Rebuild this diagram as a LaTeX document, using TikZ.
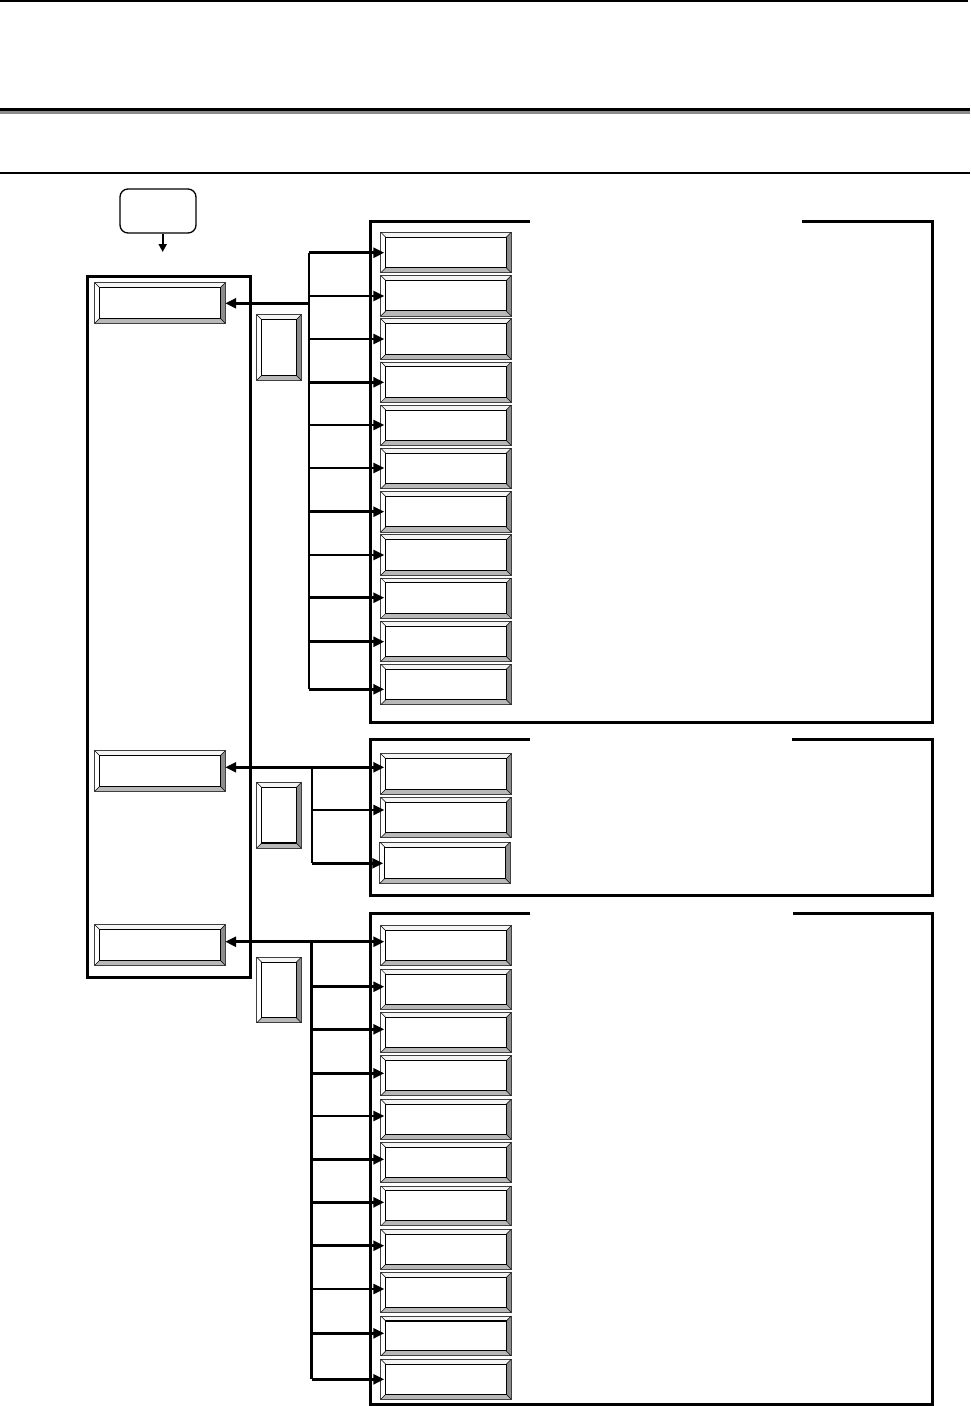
\documentclass[tikz,border=0pt]{standalone}
\usetikzlibrary{arrows.meta,calc}
\tikzset{
  pbox/.style={rectangle, inner sep=0pt, minimum width=130pt, minimum height=40pt},
  vbox/.style={rectangle, inner sep=0pt, minimum width=44pt, minimum height=65pt},
  heavy/.style={line width=3pt, line join=miter},
  conn/.style={line width=2.6pt},
  arr/.style={conn, -{Triangle[length=11pt,width=10pt]}},
  darr/.style={conn, {Triangle[length=11pt,width=10pt]}-{Triangle[length=11pt,width=10pt]}},
}
\newcommand\drawbevel[1]{%
  \fill[black!4] (#1.north west) -- (#1.north east) -- ($(#1.north east)+(-5pt,-5pt)$) -- ($(#1.north west)+(5pt,-5pt)$) -- cycle;
  \fill[white] (#1.north west) -- (#1.south west) -- ($(#1.south west)+(5pt,5pt)$) -- ($(#1.north west)+(5pt,-5pt)$) -- cycle;
  \fill[black!45] (#1.north east) -- (#1.south east) -- ($(#1.south east)+(-5pt,5pt)$) -- ($(#1.north east)+(-5pt,-5pt)$) -- cycle;
  \fill[black!28] (#1.south west) -- (#1.south east) -- ($(#1.south east)+(-5pt,5pt)$) -- ($(#1.south west)+(5pt,5pt)$) -- cycle;
  \draw[line width=0.8pt, black!75] (#1.north west) rectangle (#1.south east);
  \draw[line width=1.1pt] ($(#1.north west)+(5pt,-5pt)$) rectangle ($(#1.south east)+(-5pt,5pt)$);
  \draw[line width=0.5pt] (#1.north west) -- ($(#1.north west)+(5pt,-5pt)$)
    (#1.north east) -- ($(#1.north east)+(-5pt,-5pt)$)
    (#1.south east) -- ($(#1.south east)+(-5pt,5pt)$)
    (#1.south west) -- ($(#1.south west)+(5pt,5pt)$);
}
\begin{document}
\begin{tikzpicture}[x=1pt,y=-1pt]
\useasboundingbox (0,0) rectangle (970,1406);
\fill[white] (0,0) rectangle (970,1406);
% page rules
\draw[line width=2.5pt] (0,1.2) -- (968,1.2);
\draw[line width=3pt] (0,109) -- (970,109);
\draw[line width=2.6pt, black!45] (0,112.2) -- (970,112.2);
\draw[line width=2.3pt] (0,172.8) -- (970,172.8);

% start box
\node[draw, rounded corners=8pt, line width=1.3pt, minimum width=76pt, minimum height=44pt, inner sep=0pt] (start) at (158,211) {};
\coordinate (into) at (162.7,252);
\draw[line width=2pt, -{Triangle[length=8pt,width=8pt]}] (start.south -| into) -- (into);

% left frame and its boxes
\node[draw, line width=3pt, rectangle, inner sep=0pt, minimum width=163pt, minimum height=701pt] (lframe) at (168.5,626.5) {};
\node[pbox] (l1) at (160,303) {}; \drawbevel{l1}
\node[pbox] (l2) at (160,771) {}; \drawbevel{l2}
\node[pbox] (l3) at (160,945) {}; \drawbevel{l3}

% small vertical boxes
\node[vbox] (v1) at (279,347.5) {}; \drawbevel{v1}
\node[vbox] (v2) at (279,815.3) {}; \drawbevel{v2}
\node[vbox] (v3) at (279,990) {}; \drawbevel{v3}

% panels
\draw[heavy] (530,221.5) -- (370,221.5) -- (370,722.5) -- (932,722.5) -- (932,221.5) -- (802,221.5);
\draw[heavy] (530,739.5) -- (370,739.5) -- (370,895) -- (932,895) -- (932,739.5) -- (791.5,739.5);
\draw[heavy] (530,913.5) -- (370,913.5) -- (370,1404) -- (932,1404) -- (932,913.5) -- (793,913.5);

% panel 1 boxes
\foreach \i in {0,...,10} {
  \node[pbox] (p1b\i) at (446,252.5+43.2*\i) {};
  \drawbevel{p1b\i}
}
% panel 2 boxes
\node[pbox] (p2b0) at (446,774) {}; \drawbevel{p2b0}
\node[pbox] (p2b1) at (446,817.5) {}; \drawbevel{p2b1}
\node[pbox, minimum height=41pt] (p2b2) at (445,862.8) {}; \drawbevel{p2b2}
% panel 3 boxes
\foreach \i in {0,...,10} {
  \node[pbox, minimum height=39.5pt] (p3b\i) at (446,945.75+43.35*\i) {};
  \drawbevel{p3b\i}
}

% panel 1 connectors
\foreach \i/\y in {0/252.7,1/296,2/339,3/382.3,4/425,5/468,6/511.7,7/555,8/597.7,9/641.7,10/689.3} {
  \coordinate (a1-\i) at (309,\y);
  \draw[arr] (a1-\i) -- ($(p1b\i.west |- a1-\i)+(3.5pt,0)$);
}
\draw[conn] (a1-0) -- (a1-10);
\coordinate (j1) at (309,303.3);
\draw[arr] (j1) -- (l1.east |- j1);

% panel 2 connectors
\coordinate (j2) at (312,767.3);
\draw[darr] (l2.east |- j2) -- ($(p2b0.west |- j2)+(3.5pt,0)$);
\foreach \i/\y in {1/810,2/863.3} {
  \coordinate (a2-\i) at (312,\y);
  \draw[arr] (a2-\i) -- ($(p2b\i.west |- a2-\i)+(3.5pt,0)$);
}
\draw[conn] (j2) -- (a2-2);

% panel 3 connectors
\coordinate (j3) at (311.5,941.7);
\draw[darr] (l3.east |- j3) -- ($(p3b0.west |- j3)+(3.5pt,0)$);
\foreach \i/\y in {1/986.7,2/1029.3,3/1073.3,4/1116,5/1159.3,6/1202.3,7/1245.7,8/1289,9/1333.3,10/1379.3} {
  \coordinate (a3-\i) at (311.5,\y);
  \draw[arr] (a3-\i) -- ($(p3b\i.west |- a3-\i)+(3.5pt,0)$);
}
\draw[conn] (j3) -- (a3-10);
\end{tikzpicture}
\end{document}
